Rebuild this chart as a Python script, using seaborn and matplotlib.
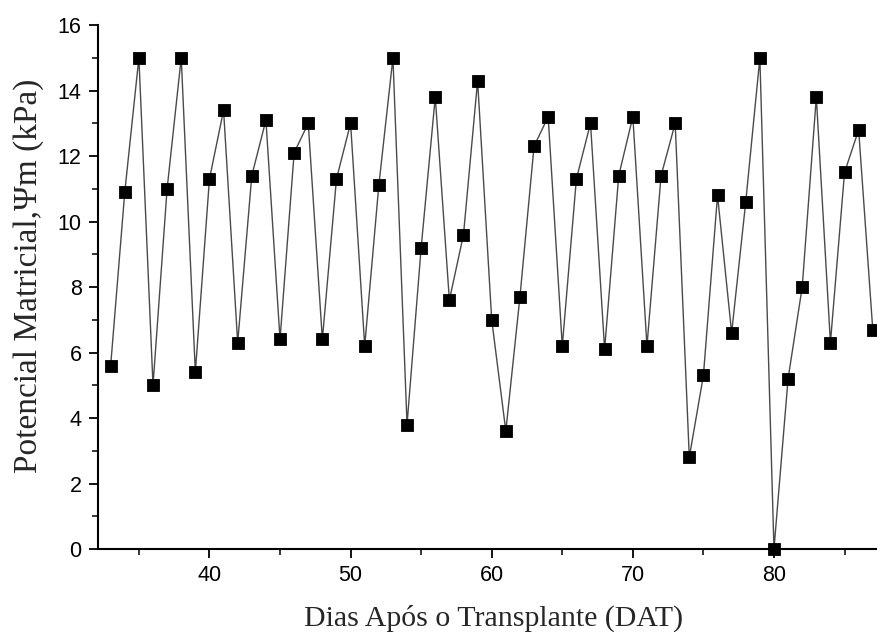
import matplotlib
matplotlib.use("Agg")
import matplotlib.pyplot as plt
from matplotlib.ticker import MultipleLocator
import seaborn as sns
import pandas as pd

# Days after transplanting and daily matric potential readings
days = list(range(33, 88))
psi_m = [
    5.6, 10.9, 15.0, 5.0, 11.0, 15.0, 5.4,
    11.3, 13.4, 6.3, 11.4, 13.1, 6.4, 12.1, 13.0, 6.4, 11.3,
    13.0, 6.2, 11.1, 15.0, 3.8, 9.2, 13.8, 7.6, 9.6, 14.3,
    7.0, 3.6, 7.7, 12.3, 13.2, 6.2, 11.3, 13.0, 6.1, 11.4,
    13.2, 6.2, 11.4, 13.0, 2.8, 5.3, 10.8, 6.6, 10.6, 15.0,
    0.0, 5.2, 8.0, 13.8, 6.3, 11.5, 12.8, 6.7,
]
x_ticks = [40, 50, 60, 70, 80]
y_ticks = [0, 2, 4, 6, 8, 10, 12, 14, 16]

df = pd.DataFrame({"dias": days, "psi": psi_m})

sns.set_style("ticks")
plt.rcParams["font.family"] = ["Liberation Sans", "DejaVu Sans"]

fig = plt.figure(figsize=(8.77, 6.32), dpi=100)
ax = fig.add_axes([0.1117, 0.1313, 0.8883, 0.8291])

sns.lineplot(
    data=df, x="dias", y="psi", ax=ax,
    color="#4a4a4a", linewidth=1.0,
    marker="s", markersize=8, markerfacecolor="black",
    markeredgecolor="black", markeredgewidth=0.6,
    clip_on=False, zorder=3,
)

ax.set_xlim(32.1, 87.3)
ax.set_ylim(0, 16)
ax.set_xticks(x_ticks)
ax.set_yticks(y_ticks)
ax.xaxis.set_minor_locator(MultipleLocator(5))
ax.yaxis.set_minor_locator(MultipleLocator(1))
ax.tick_params(axis="both", which="major", direction="out", length=6.8,
               width=1.3, labelsize=15.5, colors="black")
ax.tick_params(axis="x", which="major", pad=5)
ax.tick_params(axis="y", which="major", pad=5)
ax.tick_params(axis="both", which="minor", direction="out", length=4,
               width=1.3)

sns.despine(ax=ax)
for side in ("left", "bottom"):
    ax.spines[side].set_linewidth(1.5)
    ax.spines[side].set_color("black")

serif = ["Liberation Serif", "DejaVu Serif"]
ax.set_xlabel("Dias Após o Transplante (DAT)", fontsize=21.5,
              family=serif, labelpad=13, x=0.508)
ax.set_ylabel("Potencial Matricial,Ψm (kPa)", fontsize=24,
              family=serif, labelpad=10, y=0.522)

fig.savefig("out.png", dpi=100)
